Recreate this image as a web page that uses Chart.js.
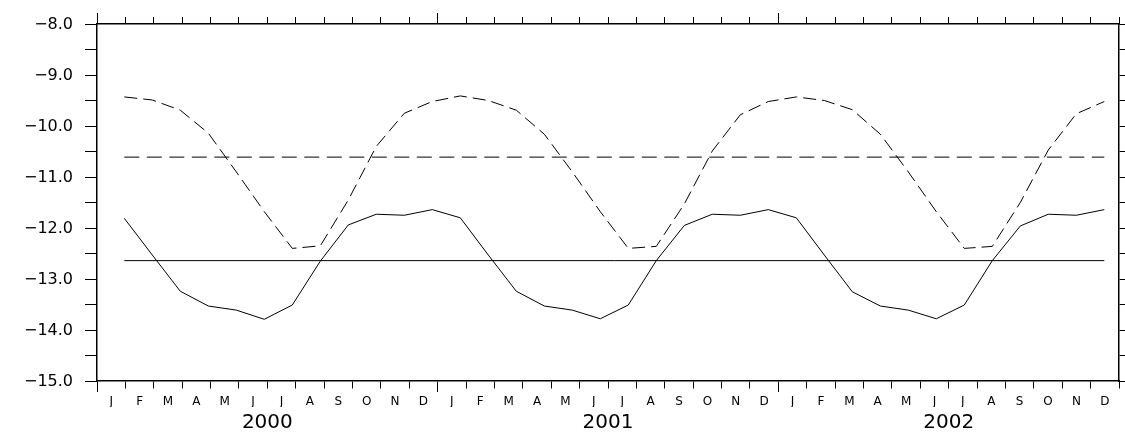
<!DOCTYPE html>
<html>
<head>
<meta charset="utf-8">
<script src="https://cdn.jsdelivr.net/npm/chart.js@4/dist/chart.umd.min.js"></script>
<style>
  html, body { margin: 0; padding: 0; background: #fff; }
  #wrap { width: 1125px; height: 434px; }
</style>
</head>
<body>
<div id="wrap"><canvas id="chart" width="1125" height="434"></canvas></div>
<script>
// Month initials and years along the time axis
const monthInitials = ['J', 'F', 'M', 'A', 'M', 'J', 'J', 'A', 'S', 'O', 'N', 'D'];
const years = ['2000', '2001', '2002'];

// Monthly series, Jan 2000 .. Dec 2002
const solidSeries = [
  -11.81, -12.53, -13.24, -13.53, -13.61, -13.79, -13.51, -12.65, -11.94, -11.73, -11.75, -11.64,
  -11.80, -12.53, -13.24, -13.53, -13.61, -13.78, -13.51, -12.64, -11.95, -11.73, -11.75, -11.64,
  -11.80, -12.53, -13.25, -13.53, -13.61, -13.78, -13.51, -12.64, -11.96, -11.73, -11.75, -11.64
];
const dashedSeries = [
  -9.43, -9.49, -9.69, -10.14, -10.90, -11.68, -12.40, -12.35, -11.45, -10.40, -9.75, -9.52,
  -9.41, -9.50, -9.69, -10.16, -10.90, -11.68, -12.40, -12.36, -11.53, -10.49, -9.78, -9.52,
  -9.43, -9.50, -9.68, -10.16, -10.90, -11.68, -12.40, -12.36, -11.50, -10.47, -9.76, -9.52
];

// Long-term means drawn as flat reference lines
const solidMean = -12.64;
const dashedMean = -10.61;

// Y axis: tick marks every 0.5, labels on whole values
const yTickValues = [-15, -14.5, -14, -13.5, -13, -12.5, -12, -11.5, -11, -10.5, -10, -9.5, -9, -8.5, -8];
const yTickLabels = {
  '-15': '\u221215.0', '-14': '\u221214.0', '-13': '\u221213.0', '-12': '\u221212.0',
  '-11': '\u221211.0', '-10': '\u221210.0', '-9': '\u22129.0', '-8': '\u22128.0'
};

const monthLabels = years.flatMap(() => monthInitials);
const monthsPerYear = monthInitials.length;
const lastIndex = solidSeries.length - 1;

const toPoints = arr => arr.map((v, i) => ({ x: i, y: v }));
const flatLine = v => [{ x: 0, y: v }, { x: lastIndex, y: v }];

const FONT = 'DejaVu Sans';
const INK = '#000';

const fixSize = (prop, size) => scale => { scale[prop] = size; };

// month-boundary ticks are short; year boundaries get the full tick length
const isYearEdge = c => c.index % monthsPerYear === 0;
const bottomTickDash = c => isYearEdge(c) ? [] : [7, 40];
const topTickDash = c => isYearEdge(c) ? [] : [0, 4, 7, 40];

const lineDs = (data, dash) => ({
  data,
  borderColor: INK,
  borderWidth: 1,
  borderDash: dash,
  pointRadius: 0,
  fill: false,
  tension: 0,
  xAxisID: 'x',
  yAxisID: 'y'
});

new Chart(document.getElementById('chart'), {
  type: 'line',
  data: {
    datasets: [
      lineDs(toPoints(solidSeries), []),
      lineDs(toPoints(dashedSeries), [13, 6]),
      lineDs(flatLine(solidMean), []),
      lineDs(flatLine(dashedMean), [15, 7.5])
    ]
  },
  options: {
    responsive: false,
    animation: false,
    devicePixelRatio: 1,
    layout: { padding: 0 },
    plugins: { legend: { display: false }, tooltip: { enabled: false } },
    scales: {
      // data index scale (hidden); monthly samples spaced evenly inside the frame
      x: {
        type: 'linear',
        display: false,
        min: -0.975,
        max: 35.525
      },
      y: {
        type: 'linear',
        position: 'left',
        min: -15,
        max: -8,
        afterBuildTicks: s => { s.ticks = yTickValues.map(v => ({ value: v })); },
        afterFit: fixSize('width', 97),
        grid: { drawOnChartArea: false, drawTicks: true, tickLength: 12, color: INK, tickWidth: 1 },
        border: { display: true, color: INK, width: 1.5 },
        ticks: {
          padding: 12,
          labelOffset: 1,
          color: INK,
          font: { family: FONT, size: 16 },
          callback: v => yTickLabels[String(v)] || ''
        }
      },
      yRight: {
        axis: 'y',
        type: 'linear',
        position: 'right',
        min: -15,
        max: -8,
        afterBuildTicks: s => { s.ticks = yTickValues.map(v => ({ value: v })); },
        afterFit: fixSize('width', 6),
        grid: { drawOnChartArea: false, drawTicks: true, tickLength: 6, color: INK, tickWidth: 1 },
        border: { display: true, color: INK, width: 1.5 },
        ticks: { display: false }
      },
      monthsBottom: {
        axis: 'x',
        type: 'category',
        position: 'bottom',
        weight: 0,
        labels: monthLabels,
        offset: true,
        afterFit: fixSize('height', 26),
        grid: {
          offset: true, drawOnChartArea: false, drawTicks: true, tickLength: 11,
          color: INK, tickWidth: 1, tickBorderDash: bottomTickDash
        },
        border: { display: true, color: INK, width: 1.5 },
        ticks: {
          autoSkip: false, maxRotation: 0, padding: 3, color: INK,
          font: { family: FONT, size: 12 }
        }
      },
      yearsBottom: {
        axis: 'x',
        type: 'category',
        position: 'bottom',
        weight: 1,
        labels: years,
        offset: true,
        afterFit: fixSize('height', 27),
        grid: { display: false, drawTicks: false },
        border: { display: false },
        ticks: {
          autoSkip: false, maxRotation: 0, padding: 4, color: INK,
          font: { family: FONT, size: 20 }
        }
      },
      monthsTop: {
        axis: 'x',
        type: 'category',
        position: 'top',
        labels: monthLabels,
        offset: true,
        afterFit: fixSize('height', 24),
        grid: {
          offset: true, drawOnChartArea: false, drawTicks: true, tickLength: 11,
          color: INK, tickWidth: 1, tickBorderDash: topTickDash
        },
        border: { display: true, color: INK, width: 1.5 },
        ticks: { display: false }
      }
    }
  }
});
</script>
</body>
</html>
